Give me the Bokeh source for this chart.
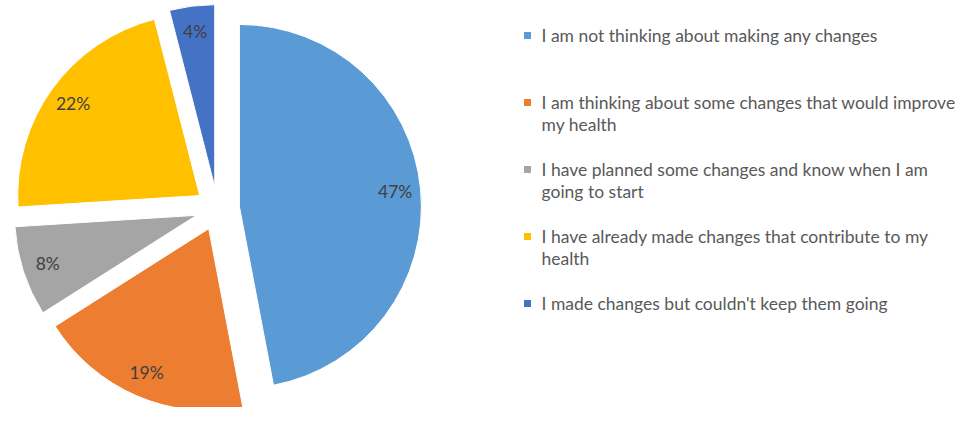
import math
from bokeh.plotting import figure
from bokeh.models import Range1d
from bokeh.core.properties import value
from bokeh.embed import file_html
from bokeh.resources import INLINE

categories = [
    "I am not thinking about making any changes",
    "I am thinking about some changes that would improve\nmy health",
    "I have planned some changes and know when I am\ngoing to start",
    "I have already made changes that contribute to my\nhealth",
    "I made changes but couldn't keep them going",
]
shares = [47, 19, 8, 22, 4]
colors = ["#5B9BD5", "#ED7D31", "#A5A5A5", "#FFC000", "#4472C4"]

W, H = 979, 423
FONT = "Lato"

p = figure(width=963, height=407, output_backend="svg", toolbar_location=None,
           x_range=Range1d(0, 963), y_range=Range1d(16, 423), min_border=0)
p.axis.visible = False
p.grid.visible = False
p.outline_line_color = None
p.background_fill_color = "white"

cx, cy = 217.0, H - 208.0
R = 182
explode = 22
total = float(sum(shares))

cum = 0.0
lx, ly, ltxt = [], [], []
for s, c in zip(shares, colors):
    a0 = cum / total * 2 * math.pi
    a1 = (cum + s) / total * 2 * math.pi
    mid = (a0 + a1) / 2
    start = math.pi / 2 - a0
    end = math.pi / 2 - a1
    mm = math.pi / 2 - mid
    ox = cx + explode * math.cos(mm)
    oy = cy + explode * math.sin(mm)
    p.wedge(x=ox, y=oy, radius=R, radius_units="screen", start_angle=start,
            end_angle=end, direction="clock", fill_color=c,
            line_color="white", line_width=1)
    lx.append(ox + 0.86 * R * math.cos(mm))
    ly.append(oy + 0.86 * R * math.sin(mm))
    ltxt.append(f"{s}%")
    cum += s

p.text(x=lx, y=ly, text=ltxt, text_align="center", text_baseline="middle",
       text_font=value(FONT), text_font_size="17.5px", text_color="#404040")

# legend
leg_x = 527
text_x = 541
top = 35
step = 67
line_h = 22
for i, (lab, c) in enumerate(zip(categories, colors)):
    yy = top + step * i
    p.rect(x=leg_x, y=H - yy, width=7, height=7, width_units="screen",
           height_units="screen", fill_color=c, line_color=None)
    for j, line in enumerate(lab.split("\n")):
        p.text(x=[text_x], y=[H - (yy + j * line_h)], text=[line],
               text_align="left", text_baseline="middle",
               text_font=value(FONT), text_font_size="17.5px",
               text_color="#595959")

open("out.html", "w").write(file_html(p, INLINE))
